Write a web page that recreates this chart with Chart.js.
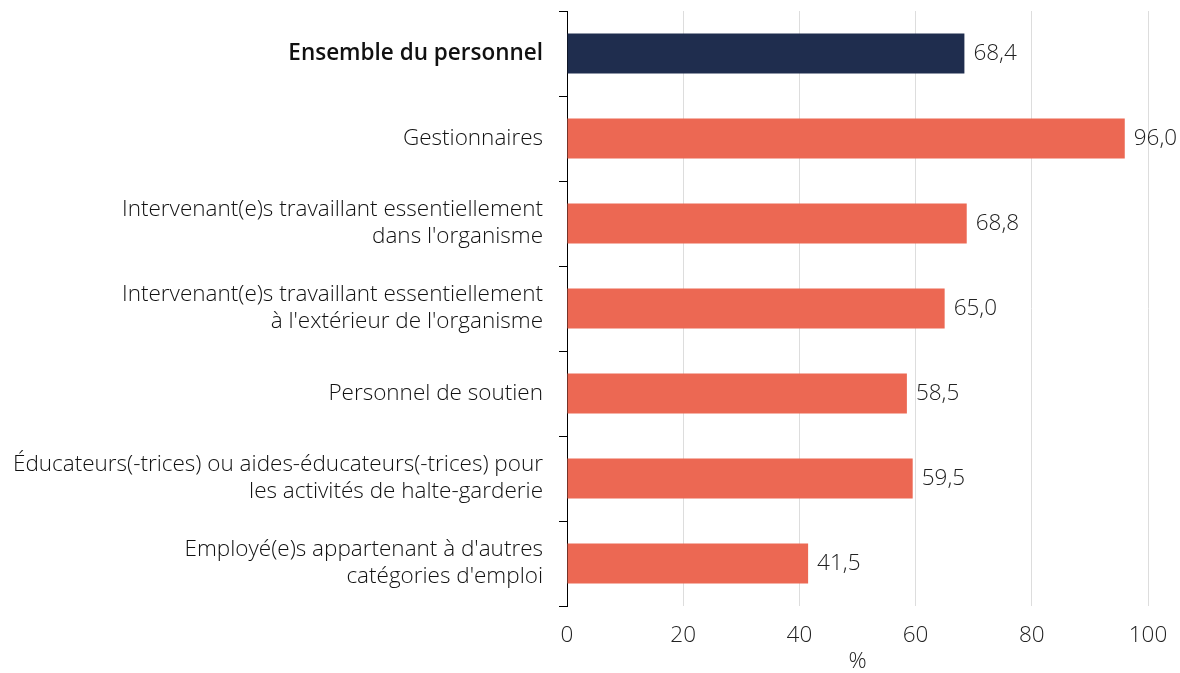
<!DOCTYPE html>
<html>
<head>
<meta charset="utf-8">
<script src="https://cdn.jsdelivr.net/npm/chart.js@4"></script>
<style>
  html, body { margin: 0; padding: 0; background: #fff; }
  #wrap { width: 1180px; height: 673px; }
</style>
</head>
<body>
<div id="wrap"><canvas id="chart"></canvas></div>
<script>
const categories = [
    ["Ensemble du personnel"],
    ["Gestionnaires"],
    ["Intervenant(e)s travaillant essentiellement", "dans l'organisme"],
    ["Intervenant(e)s travaillant essentiellement", "à l'extérieur de l'organisme"],
    ["Personnel de soutien"],
    ["Éducateurs(-trices) ou aides-éducateurs(-trices) pour", "les activités de halte-garderie"],
    ["Employé(e)s appartenant à d'autres", "catégories d'emploi"]
];
const values = [68.4, 96.0, 68.8, 65.0, 58.5, 59.5, 41.5];
const barColors = ["#1f2d4e", "#ec6853", "#ec6853", "#ec6853", "#ec6853", "#ec6853", "#ec6853"];
const xTicks = [0, 20, 40, 60, 80, 100];
const axisTitle = "%";

const FONT = "'Open Sans', sans-serif";
const SIZE = 22.5;

// value labels at the end of each bar
const valueLabels = {
    id: "valueLabels",
    afterDatasetsDraw(chart) {
        const ctx = chart.ctx;
        const meta = chart.getDatasetMeta(0);
        ctx.save();
        ctx.font = "300 " + SIZE + "px " + FONT;
        ctx.fillStyle = "#222";
        ctx.textAlign = "left";
        ctx.textBaseline = "middle";
        meta.data.forEach((bar, i) => {
            ctx.fillText(values[i].toFixed(1).replace(".", ","), bar.x + 9, bar.y);
        });
        ctx.restore();
    }
};

new Chart(document.getElementById("chart"), {
    type: "bar",
    data: {
        labels: categories,
        datasets: [{
            data: values,
            backgroundColor: barColors,
            categoryPercentage: 1,
            barPercentage: 0.47
        }]
    },
    options: {
        indexAxis: "y",
        responsive: true,
        maintainAspectRatio: false,
        animation: false,
        layout: { padding: { top: 11, right: 32, left: 0, bottom: 0 } },
        plugins: {
            legend: { display: false },
            tooltip: { enabled: false }
        },
        scales: {
            x: {
                min: 0,
                max: 100,
                afterBuildTicks: scale => { scale.ticks = xTicks.map(v => ({ value: v })); },
                afterFit: scale => {
                    scale.height = 67;
                    scale.paddingLeft = 0;
                    scale.paddingRight = 0;
                },
                grid: {
                    color: "#dddddd",
                    drawTicks: false
                },
                border: { display: false },
                ticks: {
                    padding: 16,
                    maxRotation: 0,
                    color: "#222",
                    font: { family: FONT, size: SIZE, weight: 300, lineHeight: 1.2 }
                },
                title: {
                    display: true,
                    text: axisTitle,
                    color: "#222",
                    padding: { top: 0, bottom: 0 },
                    font: { family: FONT, size: SIZE, weight: 300, lineHeight: 1 }
                }
            },
            y: {
                afterFit: scale => {
                    scale.width = 567;
                    scale.paddingTop = 0;
                    scale.paddingBottom = 0;
                },
                grid: {
                    offset: true,
                    drawOnChartArea: false,
                    color: "#000",
                    tickLength: 8
                },
                border: { display: true, color: "#000", width: 1 },
                ticks: {
                    padding: 16,
                    color: "#111",
                    font: ctx => ({
                        family: FONT,
                        size: SIZE,
                        weight: ctx.index === 0 ? 600 : 300,
                        lineHeight: 1.2
                    })
                }
            }
        }
    },
    plugins: [valueLabels]
});
</script>
</body>
</html>
